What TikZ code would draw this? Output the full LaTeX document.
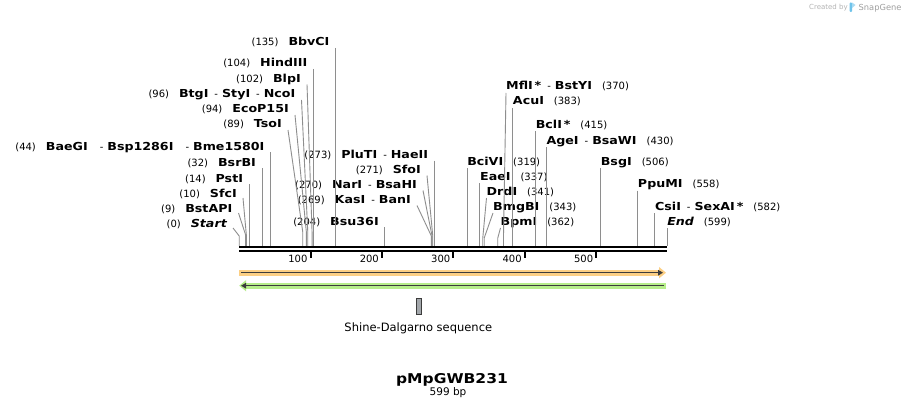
\documentclass[tikz,border=0pt]{standalone}
\usepackage{fontspec}
\setmainfont{DejaVu Sans}
\newfontfamily\enzfont[FakeStretch=1.15]{DejaVu Sans}
\usetikzlibrary{arrows.meta}
\definecolor{siteline}{HTML}{8E8E8E}
\definecolor{fwdglow}{HTML}{FCCF84}
\definecolor{revglow}{HTML}{B6EE8A}
\definecolor{featline}{HTML}{3C3C3C}
\definecolor{sdfill}{HTML}{A3A7AB}
\definecolor{credit}{HTML}{B4B4B4}
\definecolor{snapblue}{HTML}{6FC3EA}
\newcommand{\bpzero}{239.2}
\newcommand{\bpscale}{0.7143}
\newcommand{\ename}[1]{{\enzfont\fontsize{11}{13}\selectfont\bfseries #1}}
\newcommand{\gap}{\hspace{10pt}}
\newcommand{\esep}{\hspace{6pt}-\hspace{4pt}}

\begin{document}
\begin{tikzpicture}[x=1pt, y=-1pt,
        lab/.style      = {inner sep=0pt, font=\fontsize{10}{12}\selectfont},
        leftlab/.style  = {lab, anchor=base east},
        rightlab/.style = {lab, anchor=base west},
        site/.style     = {siteline, line width=0.9pt},
        rulertick/.style= {line width=2pt}]
        \fill[white] (0,0) rectangle (907,409);
        \useasboundingbox (0,0) rectangle (907,409);

        %cut positions on the backbone
        \foreach \p in {0,9,10,14,32,44,89,94,96,102,104,135,204,269,270,271,273,319,337,341,343,362,370,383,415,430,506,558,582,599}
            \coordinate (c\p) at ({\bpzero+\p*\bpscale},246);

        %labels left of their line
        \node[leftlab, name=startlab            ] at (227,227)       {(0)\gap\ename{\itshape Start}};
        \node[leftlab, name=bstapi              ] at (232.5,212)     {(9)\gap\ename{BstAPI}};
        \node[leftlab, name=sfci                ] at (237,197)       {(10)\gap\ename{SfcI}};
        \node[leftlab, name=psti,   xshift=-6pt ] at (c14 |- 0,182)  {(14)\gap\ename{PstI}};
        \node[leftlab, name=bsrbi,  xshift=-6pt ] at (c32 |- 0,166)  {(32)\gap\ename{BsrBI}};
        \node[leftlab, name=baegi,  xshift=-6pt ] at (c44 |- 0,150)  {(44)\gap\ename{BaeGI}\hspace{6pt}\esep\ename{Bsp1286I}\hspace{6pt}\esep\ename{Bme1580I}};
        \node[leftlab, name=tsoi                ] at (282,128)       {(89)\gap\ename{TsoI}};
        \node[leftlab, name=ecop                ] at (289,113)       {(94)\gap\ename{EcoP15I}};
        \node[leftlab, name=ncoi                ] at (295.5,98)      {(96)\gap\ename{BtgI}\esep\ename{StyI}\esep\ename{NcoI}};
        \node[leftlab, name=blpi                ] at (301,82.5)      {(102)\gap\ename{BlpI}};
        \node[leftlab, name=hind,   xshift=-6pt ] at (c104 |- 0,67)  {(104)\gap\ename{HindIII}};
        \node[leftlab, name=bbvci,  xshift=-6pt ] at (c135 |- 0,46)  {(135)\gap\ename{BbvCI}};
        \node[leftlab, name=bsu36i, xshift=-6pt ] at (c204 |- 0,225) {(204)\gap\ename{Bsu36I}};
        \node[leftlab, name=kasi                ] at (411,203.5)     {(269)\gap\ename{KasI}\esep\ename{BanI}};
        \node[leftlab, name=nari                ] at (417,188.5)     {(270)\gap\ename{NarI}\esep\ename{BsaHI}};
        \node[leftlab, name=sfoi                ] at (421,173.5)     {(271)\gap\ename{SfoI}};
        \node[leftlab, name=pluti,  xshift=-6pt ] at (c273 |- 0,158.5) {(273)\gap\ename{PluTI}\esep\ename{HaeII}};

        %labels right of their line
        \node[rightlab, name=mfli  ] at (506,90)          {\ename{MflI\,*}\esep\ename{BstYI}\gap(370)};
        \node[rightlab, name=acui  ] at (c383 |- 0,105)   {\ename{AcuI}\gap(383)};
        \node[rightlab, name=bcli  ] at (c415 |- 0,128.5) {\ename{BclI\,*}\gap(415)};
        \node[rightlab, name=agei  ] at (c430 |- 0,144)   {\ename{AgeI}\esep\ename{BsaWI}\gap(430)};
        \node[rightlab, name=bcivi ] at (c319 |- 0,165)   {\ename{BciVI}\gap(319)};
        \node[rightlab, name=eaei  ] at (c337 |- 0,180)   {\ename{EaeI}\gap(337)};
        \node[rightlab, name=drdi  ] at (486.5,195)       {\ename{DrdI}\gap(341)};
        \node[rightlab, name=bmgbi ] at (493,210)         {\ename{BmgBI}\gap(343)};
        \node[rightlab, name=bpmi  ] at (500.5,225)       {\ename{BpmI}\gap(362)};
        \node[rightlab, name=bsgi  ] at (c506 |- 0,165)   {\ename{BsgI}\gap(506)};
        \node[rightlab, name=ppumi ] at (c558 |- 0,187.5) {\ename{PpuMI}\gap(558)};
        \node[rightlab, name=csii  ] at (c582 |- 0,210)   {\ename{CsiI}\esep\ename{SexAI\,*}\gap(582)};
        \node[rightlab, name=endlab] at (c599 |- 0,225)   {\ename{\itshape End}\gap(599)};

        %site lines
        \draw[site] ([xshift=6pt,yshift=-1pt]startlab.base east) -- ([yshift=10pt]c0)   -- (c0);
        \draw[site] ([xshift=6pt,yshift=-1pt]bstapi.base east)   -- ([yshift=11pt]c9)   -- (c9);
        \draw[site] ([xshift=6pt,yshift=-1pt]sfci.base east)     -- ([yshift=11pt]c10)  -- (c10);
        \draw[site] ([xshift=6pt,yshift=-2pt]psti.base east)     -- (c14);
        \draw[site] ([xshift=6pt,yshift=-2pt]bsrbi.base east)    -- (c32);
        \draw[site] ([xshift=6pt,yshift=-2pt]baegi.base east)    -- (c44);
        \draw[site] ([xshift=6pt,yshift=-2pt]tsoi.base east)     -- ([yshift=14pt]c89)  -- (c89);
        \draw[site] ([xshift=6pt,yshift=-2pt]ecop.base east)     -- ([yshift=14pt]c94)  -- (c94);
        \draw[site] ([xshift=6pt,yshift=-2pt]ncoi.base east)     -- ([yshift=14pt]c96)  -- (c96);
        \draw[site] ([xshift=6pt,yshift=-2pt]blpi.base east)     -- ([yshift=14pt]c102) -- (c102);
        \draw[site] ([xshift=6pt,yshift=-2pt]hind.base east)     -- (c104);
        \draw[site] ([xshift=6pt,yshift=-2pt]bbvci.base east)    -- (c135);
        \draw[site] ([xshift=6pt,yshift=-2pt]bsu36i.base east)   -- (c204);
        \draw[site] ([xshift=6pt,yshift=-2pt]kasi.base east)     -- ([yshift=10pt]c269) -- (c269);
        \draw[site] ([xshift=6pt,yshift=-2pt]nari.base east)     -- ([yshift=10pt]c270) -- (c270);
        \draw[site] ([xshift=6pt,yshift=-2pt]sfoi.base east)     -- ([yshift=10pt]c271) -- (c271);
        \draw[site] ([xshift=6pt,yshift=-2pt]pluti.base east)    -- (c273);
        \draw[site] ([yshift=-3pt]mfli.base west)   -- ([yshift=10pt]c370) -- (c370);
        \draw[site] ([yshift=-3pt]acui.base west)   -- (c383);
        \draw[site] ([yshift=-3pt]bcli.base west)   -- (c415);
        \draw[site] ([yshift=-3pt]agei.base west)   -- (c430);
        \draw[site] ([yshift=-3pt]bcivi.base west)  -- (c319);
        \draw[site] ([yshift=-3pt]eaei.base west)   -- (c337);
        \draw[site] ([yshift=-3pt]drdi.base west)   -- ([yshift=8pt]c341)  -- (c341);
        \draw[site] ([yshift=-3pt]bmgbi.base west)  -- ([yshift=8pt]c343)  -- (c343);
        \draw[site] ([yshift=-3pt]bpmi.base west)   -- ([yshift=8pt]c362)  -- (c362);
        \draw[site] ([yshift=-3pt]bsgi.base west)   -- (c506);
        \draw[site] ([yshift=-3pt]ppumi.base west)  -- (c558);
        \draw[site] ([yshift=-3pt]csii.base west)   -- (c582);
        \draw[site] ([yshift=-3pt]endlab.base west) -- (c599);

        %backbone and ruler
        \draw[line width=2.3pt] ([yshift=-1.2pt]c0) -- ([yshift=-1.2pt]c599);
        \draw[line width=2pt]   ([yshift=-4.7pt]c0) -- ([yshift=-4.7pt]c599);
        \foreach \t in {100,200,...,500}{
            \draw[rulertick] ({\bpzero+\t*\bpscale},251) -- ++(0,7);
            \node[lab, anchor=base east, name=r\t] at ({\bpzero+\t*\bpscale-3},262) {\t};
        }

        %features
        \draw[fwdglow, line width=6.4pt, -{Triangle[length=7pt,width=11pt]}] (239.2,272.7) -- (666,272.7);
        \draw[featline, line width=1.5pt, -{Triangle[length=5pt,width=5.5pt]}] (241,272.7) -- (663,272.7);
        \draw[revglow, line width=6pt, -{Triangle[length=7pt,width=11pt]}] (666,285.7) -- (239.2,285.7);
        \draw[featline, line width=1.5pt, -{Triangle[length=5pt,width=5.5pt]}] (664,285.7) -- (241,285.7);
        \node[draw=featline, fill=sdfill, line width=0.6pt, inner sep=0pt, minimum width=5pt, minimum height=15.5pt, name=sdbox] at (419.2,306.2) {};
        \node[lab, font=\fontsize{11.5}{14}\selectfont, anchor=base, name=sdlab] at (418.3,331.7) {Shine-Dalgarno sequence};

        %title
        \node[lab, font=\enzfont\fontsize{13.5}{16}\selectfont\bfseries, anchor=base, name=title] at (452,383) {pMpGWB231};
        \node[lab, font=\fontsize{10.5}{12}\selectfont, anchor=base, name=size] at (448,395) {599 bp};

        %credit
        \node[lab, font=\fontsize{7}{8}\selectfont, text=credit, anchor=base west, name=madeby] at (809,10) {Created by};
        \fill[snapblue, rounded corners=1pt] (849.5,2.5) rectangle (852,12);
        \fill[snapblue!60] (852,2.5) -- (855.5,5) -- (852,8) -- cycle;
        \node[lab, font=\fontsize{8.3}{10}\selectfont, text=gray!75, anchor=base west, name=snapgene] at (858.5,10.5) {SnapGene};
\end{tikzpicture}
\end{document}
